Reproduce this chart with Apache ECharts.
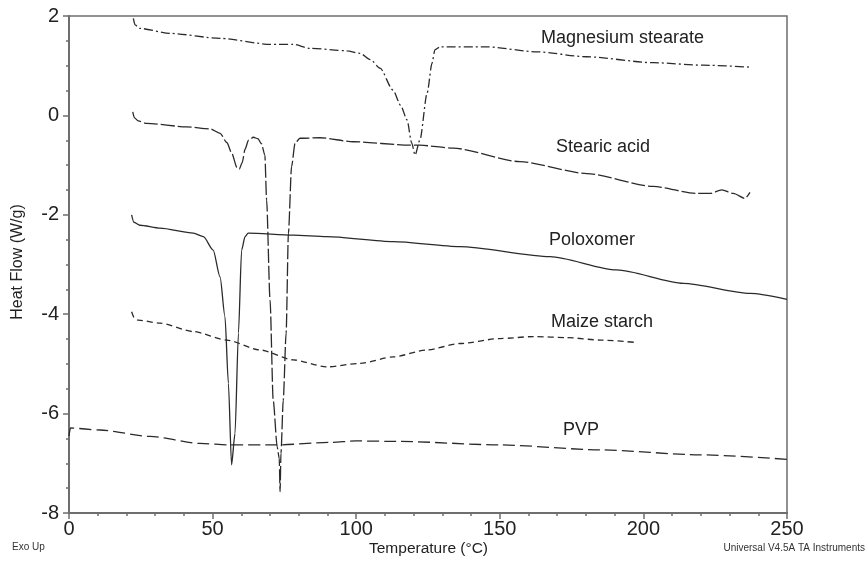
<!DOCTYPE html>
<html>
<head>
<meta charset="utf-8">
<script src="https://cdn.jsdelivr.net/npm/echarts@6/dist/echarts.min.js"></script>
<style>
  html, body { margin: 0; padding: 0; background: #fff; }
  #chart { width: 866px; height: 565px; }
</style>
</head>
<body>
<div id="chart"></div>
<script>
// DSC traces, [temperature °C, heat flow W/g]
const magnesiumStearate = [
  [22.4, 1.95], [23, 1.82], [24.7, 1.75], [35.2, 1.65], [52.6, 1.55], [70, 1.43],
  [78, 1.43], [83.9, 1.35], [96.8, 1.3], [101.3, 1.25], [105, 1.12], [108.3, 0.95],
  [112.8, 0.51], [115.5, 0.2], [117.7, -0.09], [119.3, -0.55], [120.5, -0.8],
  [122.2, -0.49], [124.7, 0.45], [126.4, 1.05], [127.4, 1.32], [129.2, 1.38],
  [145.4, 1.38], [162.8, 1.28], [180.2, 1.18], [203.5, 1.06], [220.9, 1.01], [237.7, 0.97]
];
const stearicAcid = [
  [22.2, 0.07], [22.8, -0.05], [24.1, -0.11], [27, -0.16], [41, -0.23], [49.1, -0.27],
  [52.6, -0.36], [55, -0.55], [56.6, -0.75], [58.5, -1.05], [59.3, -1.08], [60.3, -0.95],
  [61.3, -0.68], [62.5, -0.5], [64.2, -0.44], [65.8, -0.47], [67, -0.57], [68.2, -0.8],
  [68.8, -1.7], [70, -3.71], [71.1, -5.73], [72.5, -6.67], [73.2, -6.9], [73.5, -7.57],
  [73.8, -6.8], [74.6, -5.73], [75.6, -4.38], [76.4, -2.37], [77.5, -1.03], [78.7, -0.56],
  [80.4, -0.46], [87.4, -0.45], [99, -0.53], [118.7, -0.6], [122.2, -0.6], [133.8, -0.66],
  [157, -0.93], [180.3, -1.17], [203.4, -1.43], [218.5, -1.57], [223.2, -1.57],
  [227.3, -1.5], [231.3, -1.57], [235.4, -1.67], [237.1, -1.55]
];
const poloxomer = [
  [21.8, -2.0], [22.6, -2.15], [24.7, -2.21], [31.7, -2.27], [43.3, -2.37], [46.8, -2.44],
  [50.2, -2.71], [52.6, -3.25], [54.3, -4.05], [55.5, -5.39], [56.6, -7.03], [57.8, -6.4],
  [59, -4.38], [60.1, -2.71], [61.3, -2.44], [62.4, -2.37], [78.1, -2.41], [89.7, -2.44],
  [112.9, -2.54], [136.1, -2.64], [167.5, -2.84], [190.7, -3.11], [213.9, -3.38],
  [237.1, -3.58], [250, -3.7]
];
const maizeStarch = [
  [21.8, -3.95], [22.8, -4.08], [24.1, -4.12], [31.7, -4.18], [43.3, -4.35], [54.9, -4.52],
  [66.5, -4.72], [78.1, -4.92], [89.7, -5.06], [101.3, -4.99], [112.9, -4.86], [124.5, -4.72],
  [136.1, -4.59], [150.1, -4.49], [161.7, -4.45], [173.3, -4.47], [184.9, -4.52], [197.7, -4.57]
];
const pvp = [
  [0, -6.45], [0.5, -6.29], [10.8, -6.33], [28.2, -6.46], [45.6, -6.6], [56.1, -6.63],
  [72.3, -6.63], [90.9, -6.58], [100, -6.55], [115.2, -6.56], [150.1, -6.63],
  [184.9, -6.73], [219.7, -6.83], [250, -6.92]
];

const seriesNames = ['Magnesium stearate', 'Stearic acid', 'Poloxomer', 'Maize starch', 'PVP'];
const xTicks = { min: 0, max: 250, interval: 50 };
const yTicks = { min: -8, max: 2, interval: 2 };

const font = '"Liberation Sans", Arial, sans-serif';
const ink = '#2a2a2a';
const axisGray = '#6e6e6e';

const chart = echarts.init(document.getElementById('chart'), null, { renderer: 'canvas' });

const mkLine = (name, data, dash) => ({
  name,
  type: 'line',
  data,
  showSymbol: false,
  smooth: 0.25,
  smoothMonotone: 'x',
  lineStyle: { color: ink, width: 1.3, type: dash },
  animation: false
});

// curve labels sit next to each trace, like in the instrument printout
const labelText = (text, left, top) => ({
  type: 'text',
  left, top,
  style: { text, font: '18px ' + font, fill: '#222' }
});

chart.setOption({
  backgroundColor: '#fff',
  animation: false,
  grid: {
    left: 69, top: 16, right: 79, bottom: 52,
    show: true, borderColor: axisGray, borderWidth: 1.5
  },
  xAxis: {
    type: 'value',
    min: xTicks.min, max: xTicks.max, interval: xTicks.interval,
    axisLine: { show: true, onZero: false, lineStyle: { color: axisGray, width: 2 } },
    axisTick: { show: true, length: 6, lineStyle: { color: axisGray, width: 1.5 } },
    minorTick: { show: true, splitNumber: 5, length: 3, lineStyle: { color: axisGray, width: 1.5 } },
    splitLine: { show: false },
    axisLabel: { color: '#222', fontSize: 20, fontFamily: font, margin: 6 }
  },
  yAxis: {
    type: 'value',
    min: yTicks.min, max: yTicks.max, interval: yTicks.interval,
    axisLine: { show: true, onZero: false, lineStyle: { color: axisGray, width: 2 } },
    axisTick: { show: true, length: 6, lineStyle: { color: axisGray, width: 1.5 } },
    minorTick: { show: true, splitNumber: 4, length: 3, lineStyle: { color: axisGray, width: 1.5 } },
    splitLine: { show: false },
    axisLabel: { color: '#222', fontSize: 20, fontFamily: font, margin: 10 }
  },
  series: [
    mkLine(seriesNames[0], magnesiumStearate, [9, 3, 2, 3]),
    mkLine(seriesNames[1], stearicAcid, [14, 3]),
    mkLine(seriesNames[2], poloxomer, 'solid'),
    mkLine(seriesNames[3], maizeStarch, [6, 4]),
    mkLine(seriesNames[4], pvp, [12, 5])
  ],
  graphic: [
    labelText(seriesNames[0], 541, 29),
    labelText(seriesNames[1], 556, 138),
    labelText(seriesNames[2], 549, 231),
    labelText(seriesNames[3], 551, 313),
    labelText(seriesNames[4], 563, 421),
    {
      type: 'text', left: 369, top: 541,
      style: { text: 'Temperature (°C)', font: '15.5px ' + font, fill: '#222' }
    },
    {
      type: 'text', x: 18, y: 262, rotation: Math.PI / 2,
      style: { text: 'Heat Flow (W/g)', font: '16px ' + font, fill: '#222', align: 'center', verticalAlign: 'middle' }
    },
    {
      type: 'text', left: 12, top: 542,
      style: { text: 'Exo Up', font: '10px ' + font, fill: '#333' }
    },
    {
      type: 'text', right: 1, top: 543,
      style: { text: 'Universal V4.5A TA Instruments', font: '10px ' + font, fill: '#333' }
    }
  ]
});
</script>
</body>
</html>
